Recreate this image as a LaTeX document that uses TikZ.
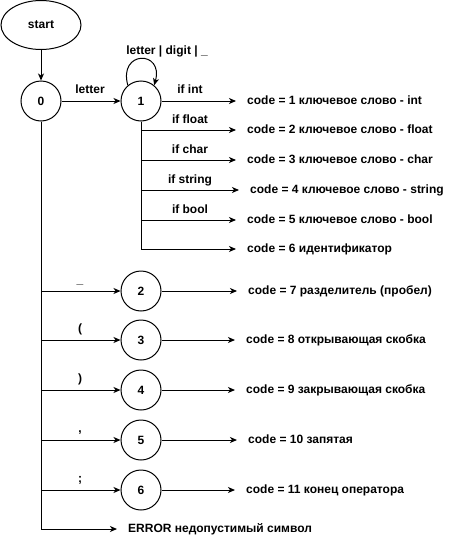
\documentclass[tikz,border=0pt]{standalone}
\usepackage{fontspec}
\setmainfont{Liberation Sans}
\usetikzlibrary{shapes.geometric,arrows.meta}
\begin{document}
\begin{tikzpicture}[x=1pt,y=-1pt,
  every node/.style={font=\fontsize{12pt}{14pt}\selectfont\bfseries},
  state/.style={draw,circle,minimum size=40pt,inner sep=0pt,line width=1pt},
  arr/.style={-{Stealth[length=7pt,width=6pt,inset=2pt]},line width=1pt},
  lbl/.style={anchor=base,inner sep=0pt},
  res/.style={anchor=west,inner ysep=0pt,inner xsep=11pt,text height=9pt,text depth=2.5pt}]
\useasboundingbox (0,0) rectangle (451,541);
\node[draw,ellipse,minimum width=80pt,minimum height=49pt,inner sep=0pt,line width=1pt] (start) at (41,25) {start};
\node[state] (n0) at (41,101) {0};
\node[state] (n1) at (141,101) {1};
\node[state] (n2) at (141,291) {2};
\node[state] (n3) at (141,340) {3};
\node[state] (n4) at (141,390) {4};
\node[state] (n5) at (141,440) {5};
\node[state] (n6) at (141,490) {6};
% results
\node[res] (t1) at (236,101) {code = 1 ключевое слово - int};
\node[res] (t2) at (236,130) {code = 2 ключевое слово - float};
\node[res] (t3) at (236,160) {code = 3 ключевое слово - char};
\node[res] (t4) at (239,190) {code = 4 ключевое слово - string};
\node[res] (t5) at (236,220) {code = 5 ключевое слово - bool};
\node[res] (t6) at (236,249) {code = 6 идентификатор};
\node[res] (t7) at (237,291) {code = 7 разделитель (пробел)};
\node[res] (t8) at (235,340) {code = 8 открывающая скобка};
\node[res] (t9) at (235,390) {code = 9 закрывающая скобка};
\node[res] (t10) at (237,440) {code = 10 запятая};
\node[res] (t11) at (235,490) {code = 11 конец оператора};
\node[res] (terr) at (117,529) {ERROR недопустимый символ};
% labels
\node[lbl] (lloop) at (167,54) {letter | digit | \_};
\node[lbl] (lletter) at (90,93) {letter};
\node[lbl] (lint) at (190,93) {if int};
\node[lbl] (lfloat) at (190,123) {if float};
\node[lbl] (lchar) at (190,153) {if char};
\node[lbl] (lstring) at (190,183) {if string};
\node[lbl] (lbool) at (190,213) {if bool};
\node[lbl] (lus) at (80,283) {\_};
\node[lbl] (lop) at (80,332) {(};
\node[lbl] (lcp) at (80,382) {)};
\node[lbl] (lcm) at (80,432) {,};
\node[lbl] (lsc) at (80,482) {;};
% connectors
\draw[arr] (start) -- (n0);
\draw[arr] (n0) -- (n1);
\draw[arr] (n1.130) .. controls (118,50) and (164,50) .. (n1.50);
\draw[arr] (n1) -- (t1);
\draw[arr] (n1) |- (t2);
\draw[arr] (n1) |- (t3);
\draw[arr] (n1) |- (t4);
\draw[arr] (n1) |- (t5);
\draw[arr] (n1) |- (t6);
\draw[arr] (n0) |- (n2);
\draw[arr] (n0) |- (n3);
\draw[arr] (n0) |- (n4);
\draw[arr] (n0) |- (n5);
\draw[arr] (n0) |- (n6);
\draw[arr] (n0) |- (terr);
\draw[arr] (n2) -- (t7);
\draw[arr] (n3) -- (t8);
\draw[arr] (n4) -- (t9);
\draw[arr] (n5) -- (t10);
\draw[arr] (n6) -- (t11);
\end{tikzpicture}
\end{document}
